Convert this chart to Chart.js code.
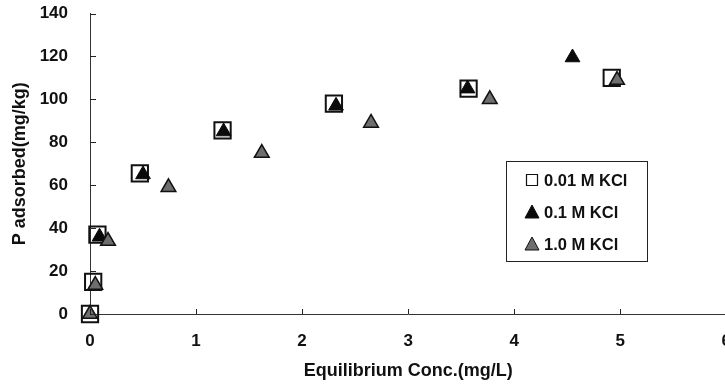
<!DOCTYPE html>
<html>
<head>
<meta charset="utf-8">
<script src="https://cdn.jsdelivr.net/npm/chart.js@4.4.1/dist/chart.umd.min.js"></script>
<style>
  html, body { margin: 0; padding: 0; background: #fff; overflow: hidden; }
  #wrap { width: 740px; height: 391px; }
</style>
</head>
<body>
<div id="wrap"><canvas id="chart" width="740" height="391"></canvas></div>
<script>
// series
const seriesLabels = ['0.01 M KCl', '0.1 M KCl', '1.0 M KCl'];
const conc001 = [0, 0.03, 0.07, 0.47, 1.25, 2.30, 3.57, 4.92];
const ads001  = [0, 15, 37, 65.5, 85.5, 98, 105, 110];
const conc01  = [0.09, 0.50, 1.26, 2.32, 3.56, 4.55];
const ads01   = [36, 65, 85, 97, 105, 119.5];
const conc10  = [0, 0.05, 0.17, 0.74, 1.62, 2.65, 3.77, 4.97];
const ads10   = [0, 13.5, 34, 59, 75, 89, 100, 109];
const xTicks = [0, 1, 2, 3, 4, 5, 6];
const yTicks = [0, 20, 40, 60, 80, 100, 120, 140];

const FONT = "'Liberation Sans', Arial, sans-serif";
const toPoints = (xs, ys) => xs.map((x, i) => ({ x: x, y: ys[i] }));

// small inward tick marks, like the original
const innerTicks = {
  id: 'innerTicks',
  afterDatasetsDraw(chart) {
    const { ctx, chartArea, scales } = chart;
    ctx.save();
    ctx.strokeStyle = '#222';
    ctx.lineWidth = 1;
    ctx.beginPath();
    xTicks.forEach(v => {
      const px = Math.round(scales.x.getPixelForValue(v)) + 0.5;
      ctx.moveTo(px, chartArea.bottom);
      ctx.lineTo(px, chartArea.bottom - 5);
    });
    yTicks.forEach(v => {
      const py = Math.round(scales.y.getPixelForValue(v)) + 0.5;
      ctx.moveTo(chartArea.left, py);
      ctx.lineTo(chartArea.left + 6, py);
    });
    ctx.stroke();
    ctx.restore();
  }
};

// boxed legend inside the plot
const boxLegend = {
  id: 'boxLegend',
  afterDraw(chart) {
    const { ctx } = chart;
    const bx = 506, by = 161, bw = 141, bh = 100;
    ctx.save();
    ctx.fillStyle = '#fff';
    ctx.fillRect(bx, by, bw, bh);
    ctx.strokeStyle = '#222';
    ctx.lineWidth = 1;
    ctx.strokeRect(bx + 0.5, by + 0.5, bw, bh);
    ctx.font = 'bold 16.5px ' + FONT;
    ctx.textBaseline = 'middle';
    chart.data.datasets.forEach((ds, i) => {
      const cy = by + 19 + i * 32;
      const cx = bx + 26;
      ctx.beginPath();
      if (ds.pointStyle === 'rect') {
        ctx.rect(cx - 5.5, cy - 5.5, 11, 11);
        ctx.fillStyle = '#fff';
        ctx.fill();
        ctx.strokeStyle = '#111';
        ctx.lineWidth = 1.2;
        ctx.stroke();
      } else {
        ctx.moveTo(cx, cy - 7);
        ctx.lineTo(cx + 7, cy + 6);
        ctx.lineTo(cx - 7, cy + 6);
        ctx.closePath();
        ctx.fillStyle = ds.backgroundColor;
        ctx.fill();
        ctx.strokeStyle = '#111';
        ctx.lineWidth = 1;
        ctx.stroke();
      }
      ctx.fillStyle = '#111';
      ctx.fillText(ds.label, bx + 38, cy + 1);
    });
    ctx.restore();
  }
};

new Chart(document.getElementById('chart'), {
  type: 'scatter',
  data: {
    datasets: [
      {
        label: seriesLabels[0],
        data: toPoints(conc001, ads001),
        pointStyle: 'rect',
        pointRadius: 11.5,
        backgroundColor: 'rgba(255,255,255,0)',
        borderColor: '#111',
        borderWidth: 2,
        clip: false,
        order: 3
      },
      {
        label: seriesLabels[1],
        data: toPoints(conc01, ads01),
        pointStyle: 'triangle',
        pointRadius: 8.5,
        backgroundColor: '#0a0a0a',
        borderColor: '#0a0a0a',
        borderWidth: 1,
        clip: false,
        order: 2
      },
      {
        label: seriesLabels[2],
        data: toPoints(conc10, ads10),
        pointStyle: 'triangle',
        pointRadius: 8.5,
        backgroundColor: '#6e6e6e',
        borderColor: '#111',
        borderWidth: 1.5,
        clip: false,
        order: 1
      }
    ]
  },
  options: {
    responsive: false,
    animation: false,
    layout: { padding: { top: 3, left: 0, right: 7, bottom: 0 } },
    plugins: {
      legend: { display: false },
      tooltip: { enabled: false }
    },
    scales: {
      x: {
        type: 'linear',
        min: 0,
        max: 6,
        afterBuildTicks: s => { s.ticks = xTicks.map(v => ({ value: v })); },
        border: { display: true, color: '#333', width: 1 },
        grid: { display: false },
        ticks: { color: '#111', padding: 9, font: { family: FONT, size: 17, weight: 'bold' } },
        title: {
          display: true,
          text: 'Equilibrium Conc.(mg/L)',
          color: '#111',
          padding: { top: 0, bottom: 9 },
          font: { family: FONT, size: 18, weight: 'bold' }
        }
      },
      y: {
        min: 0,
        max: 140,
        afterBuildTicks: s => { s.ticks = yTicks.map(v => ({ value: v })); },
        afterFit: s => { s.width = 90; s.paddingTop = 0; s.paddingBottom = 0; },
        border: { display: true, color: '#333', width: 1 },
        grid: { display: false },
        ticks: { color: '#111', padding: 14, font: { family: FONT, size: 17, weight: 'bold', lineHeight: 0.6 } },
        title: {
          display: true,
          text: 'P adsorbed(mg/kg)',
          color: '#111',
          padding: { top: 9, bottom: 0 },
          font: { family: FONT, size: 18, weight: 'bold' }
        }
      }
    }
  },
  plugins: [innerTicks, boxLegend]
});
</script>
</body>
</html>
